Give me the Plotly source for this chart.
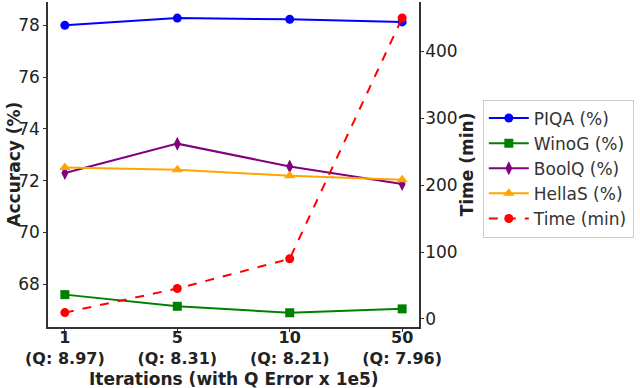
import plotly.graph_objects as go

# Data
iterations = ["1", "5", "10", "50"]
q_error = ["8.97", "8.31", "8.21", "7.96"]

piqa = [78.0, 78.28, 78.23, 78.13]
winog = [67.6, 67.15, 66.9, 67.05]
boolq = [72.3, 73.43, 72.55, 71.87]
hellas = [72.51, 72.42, 72.19, 72.04]
time_min = [9.5, 45.5, 90, 450]

tick_text = [f"<b>{it}<br>(Q: {q})</b>" for it, q in zip(iterations, q_error)]

font_family = "DejaVu Sans"

fig = go.Figure()

acc_series = [
    ("PIQA (%)", piqa, "blue", "circle", 9),
    ("WinoG (%)", winog, "green", "square", 9),
    ("BoolQ (%)", boolq, "purple", "diamond-tall", 10),
    ("HellaS (%)", hellas, "orange", "triangle-up", 10),
]
for name, vals, color, symbol, size in acc_series:
    fig.add_trace(go.Scatter(
        x=iterations, y=vals, name=name, mode="lines+markers",
        line=dict(color=color, width=2),
        marker=dict(symbol=symbol, size=size, color=color),
    ))

fig.add_trace(go.Scatter(
    x=iterations, y=time_min, name="Time (min)", mode="lines+markers",
    line=dict(color="red", width=2, dash="dash"),
    marker=dict(symbol="circle", size=9, color="red"),
    yaxis="y2",
))

axis_color = "#333333"
axis_common = dict(
    showline=True, linecolor=axis_color, linewidth=1.5,
    ticks="outside", ticklen=3, tickcolor=axis_color,
    showgrid=False, zeroline=False, automargin=False,
)

fig.update_layout(
    width=640, height=388,
    margin=dict(l=48, r=221, t=2, b=61),
    plot_bgcolor="white", paper_bgcolor="white",
    font=dict(family=font_family, size=17, color="#222222"),
    showlegend=True,
    xaxis=dict(
        type="category",
        range=[-0.15, 3.15],
        tickvals=iterations, ticktext=tick_text,
        tickfont=dict(size=16),
        ticklabelstandoff=-8,
        **axis_common,
    ),
    yaxis=dict(
        range=[66.35, 78.9],
        tickvals=[68, 70, 72, 74, 76, 78],
        tickfont=dict(size=17),
        **axis_common,
    ),
    yaxis2=dict(
        overlaying="y", side="right",
        range=[-12, 474],
        tickvals=[0, 100, 200, 300, 400],
        tickfont=dict(size=17),
        ticklabelstandoff=-2,
        **axis_common,
    ),
    legend=dict(
        x=1.172, y=0.70, xanchor="left", yanchor="top",
        bordercolor="#cccccc", borderwidth=1,
        font=dict(size=17, color="#333333"),
        itemwidth=40, tracegroupgap=0,
    ),
)

# axis titles
title_font = dict(size=17, color="#222222", family=font_family)
fig.add_annotation(text="<b>Accuracy (%)</b>", xref="paper", yref="paper",
                   x=-0.094, y=0.5, textangle=-90, showarrow=False,
                   xanchor="center", yanchor="middle", font=title_font)
fig.add_annotation(text="<b>Time (min)</b>", xref="paper", yref="paper",
                   x=1.129, y=0.5, textangle=-90, showarrow=False,
                   xanchor="center", yanchor="middle", font=title_font)
fig.add_annotation(text="<b>Iterations (with Q Error x 1e5)</b>", xref="paper",
                   yref="paper", x=0.5, y=0, yshift=-52, showarrow=False,
                   xanchor="center", yanchor="middle", font=title_font)

fig.write_html("out.html", config={"displayModeBar": False},
               post_script="document.body.style.margin='0';")
